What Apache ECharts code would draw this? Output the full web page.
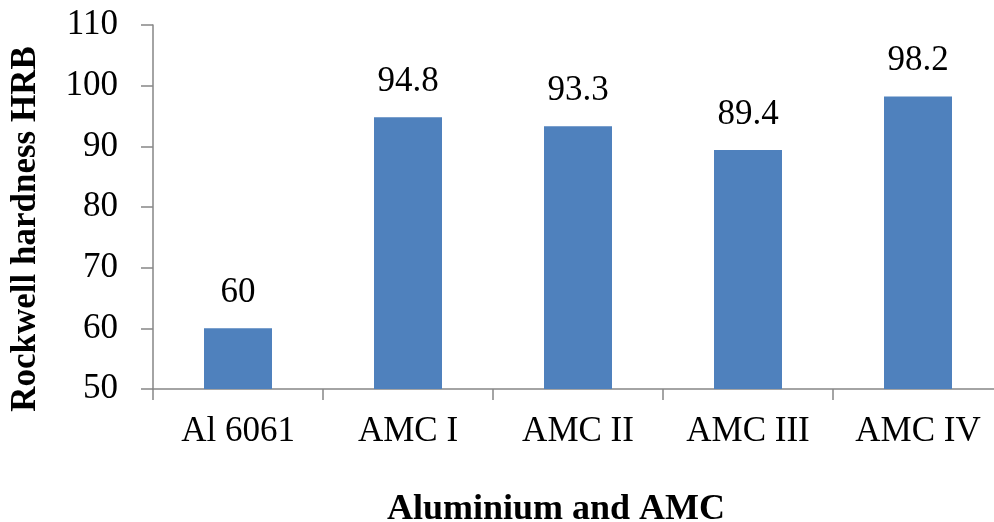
<!DOCTYPE html>
<html>
<head>
<meta charset="utf-8">
<script src="https://cdn.jsdelivr.net/npm/echarts@6/dist/echarts.min.js"></script>
<style>
html,body{margin:0;padding:0;background:#fff;}
#main{width:994px;height:522px;}
</style>
</head>
<body>
<div id="main"></div>
<script>
const categories = ['Al 6061', 'AMC I', 'AMC II', 'AMC III', 'AMC IV'];
const hardness = [60, 94.8, 93.3, 89.4, 98.2];
const yMin = 50, yMax = 110, yStep = 10;
const xTitle = 'Aluminium and AMC';
const yTitle = 'Rockwell hardness HRB';

const FONT = '"Liberation Serif", "Times New Roman", serif';
const axisGray = '#868686';

const chart = echarts.init(document.getElementById('main'), null, {renderer: 'canvas'});
chart.setOption({
  animation: false,
  backgroundColor: '#ffffff',
  title: {
    text: xTitle,
    left: 551,
    top: 487,
    textAlign: 'center',
    textStyle: {fontFamily: FONT, fontWeight: 'bold', fontSize: 36, color: '#000'}
  },
  grid: {left: 153, right: -9, top: 25, bottom: 133, containLabel: false, outerBoundsMode: 'none'},
  xAxis: {
    type: 'category',
    data: categories,
    axisLine: {lineStyle: {color: axisGray, width: 1.5}},
    axisTick: {show: true, length: 11, alignWithLabel: false, lineStyle: {color: axisGray, width: 1.5}},
    axisLabel: {fontFamily: FONT, fontSize: 35, color: '#000', margin: 25}
  },
  yAxis: {
    type: 'value',
    min: yMin, max: yMax, interval: yStep,
    name: yTitle,
    nameLocation: 'middle',
    nameGap: 110,
    nameRotate: 90,
    nameTextStyle: {fontFamily: FONT, fontWeight: 'bold', fontSize: 35, color: '#000', padding: [0, 44, 0, 0]},
    splitLine: {show: false},
    axisLine: {show: true, lineStyle: {color: axisGray, width: 1.5}},
    axisTick: {show: true, length: 12, inside: false, lineStyle: {color: axisGray, width: 1.5}},
    axisLabel: {fontFamily: FONT, fontSize: 35, color: '#000', margin: 35}
  },
  series: [{
    type: 'bar',
    data: hardness,
    barWidth: '40%',
    itemStyle: {color: '#4F81BD'},
    label: {show: true, position: 'top', distance: 18, fontFamily: FONT, fontSize: 35, color: '#000'}
  }]
});
</script>
</body>
</html>
